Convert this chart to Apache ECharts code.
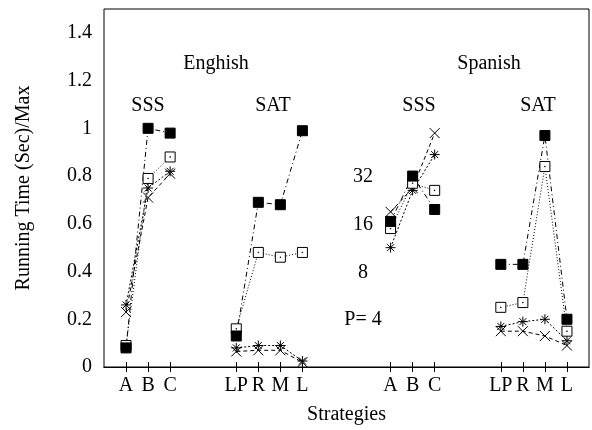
<!DOCTYPE html>
<html>
<head>
<meta charset="utf-8">
<script src="https://cdn.jsdelivr.net/npm/echarts@6/dist/echarts.min.js"></script>
<style>html,body{margin:0;padding:0;background:#fff;}#c{width:592px;height:430px;}</style>
</head>
<body>
<div id="c"></div>
<script>
// x categories ('' = empty slot between groups)
const categories = ['', 'A', 'B', 'C', '', '', 'LP', 'R', 'M', 'L', '', '', '', 'A', 'B', 'C', '', '', 'LP', 'R', 'M', 'L', ''];
const yTicks = [0, 0.2, 0.4, 0.6, 0.8, 1, 1.2, 1.4];

// English SSS (A,B,C)
const engSSS_P32 = [0.08, 1.00, 0.98];
const engSSS_P16 = [0.09, 0.79, 0.88];
const engSSS_P8  = [0.26, 0.75, 0.82];
const engSSS_P4  = [0.23, 0.71, 0.81];
// English SAT (LP,R,M,L)
const engSAT_P32 = [0.13, 0.69, 0.68, 0.99];
const engSAT_P16 = [0.16, 0.48, 0.46, 0.48];
const engSAT_P8  = [0.08, 0.09, 0.09, 0.025];
const engSAT_P4  = [0.065, 0.07, 0.07, 0.02];
// Spanish SSS (A,B,C)
const spaSSS_P32 = [0.61, 0.80, 0.66];
const spaSSS_P16 = [0.58, 0.77, 0.74];
const spaSSS_P8  = [0.50, 0.74, 0.89];
const spaSSS_P4  = [0.65, 0.75, 0.98];
// Spanish SAT (LP,R,M,L)
const spaSAT_P32 = [0.43, 0.43, 0.97, 0.20];
const spaSAT_P16 = [0.25, 0.27, 0.84, 0.15];
const spaSAT_P8  = [0.17, 0.19, 0.20, 0.11];
const spaSAT_P4  = [0.15, 0.15, 0.13, 0.09];

const seriesNames = ['P=32', 'P=16', 'P=8', 'P=4'];
const annotationLabels = ['32', '16', '8', 'P= 4'];

function full(a, b, c, d) {
  return [null, ...a, null, null, ...b, null, null, null, ...c, null, null, ...d, null];
}

const FONT = 'Liberation Serif';
const chart = echarts.init(document.getElementById('c'));
const axisBase = {
  axisLine: {lineStyle: {color: '#000', width: 1}},
  splitLine: {show: false}
};
const xA = {
  type: 'category', data: categories, boundaryGap: false,
  axisTick: {inside: true, length: 5, lineStyle: {color: '#000'}, interval: (i, v) => v !== ''},
  ...axisBase
};
const yA = {
  type: 'value', min: 0, max: 1.5, interval: 0.2,
  axisTick: {inside: true, length: 5, lineStyle: {color: '#000'}},
  ...axisBase
};

const mk = (name, data, symbol, size, itemStyle, dash) => ({
  name, type: 'line', data, symbol, symbolSize: size, showAllSymbol: true,
  connectNulls: false, z: 3,
  lineStyle: {color: '#000', width: 1, type: dash},
  itemStyle: Object.assign({borderColor: '#000', borderWidth: 1}, itemStyle),
  emphasis: {disabled: true}
});

const asterisk = 'path://M5 0L5 10M0 5L10 5M1.5 1.5L8.5 8.5M8.5 1.5L1.5 8.5';
const cross = 'path://M0 0L10 10M10 0L0 10';
const dotSquare = 'path://M0 0H10V10H0Z M4.7 4.7H5.3V5.3H4.7Z';

const txt = (s, x, y) => ({type: 'text', x, y, style: {text: s, font: '20px "' + FONT + '"', fill: '#000', textAlign: 'center', textVerticalAlign: 'middle'}});

chart.setOption({
  animation: false,
  backgroundColor: '#fff',
  grid: {left: 104, top: 9, width: 486, height: 359, show: true, borderColor: '#000', borderWidth: 1, backgroundColor: 'transparent'},
  xAxis: [
    Object.assign({}, xA, {position: 'bottom', name: 'Strategies', nameLocation: 'middle', nameGap: 38,
      nameTextStyle: {fontFamily: FONT, fontSize: 20, color: '#000'},
      axisLabel: {interval: 0, fontFamily: FONT, fontSize: 20, color: '#000', margin: 9}}),
    Object.assign({}, xA, {position: 'top', axisLabel: {show: false}})
  ],
  yAxis: [
    Object.assign({}, yA, {position: 'left', name: 'Running Time (Sec)/Max', nameLocation: 'middle', nameGap: 70,
      nameTextStyle: {fontFamily: FONT, fontSize: 20, color: '#000'},
      axisLabel: {fontFamily: FONT, fontSize: 20, color: '#000', margin: 12,
        formatter: v => (yTicks.some(t => Math.abs(t - v) < 1e-6) ? String(Math.round(v * 10) / 10) : '')}}),
    Object.assign({}, yA, {position: 'right', axisLabel: {show: false}})
  ],
  series: [
    mk(seriesNames[3], full(engSSS_P4, engSAT_P4, spaSSS_P4, spaSAT_P4), cross, 10, {color: 'transparent'}, [4, 3]),
    mk(seriesNames[2], full(engSSS_P8, engSAT_P8, spaSSS_P8, spaSAT_P8), asterisk, 10, {color: 'transparent'}, [2, 2]),
    mk(seriesNames[1], full(engSSS_P16, engSAT_P16, spaSSS_P16, spaSAT_P16), dotSquare, 10, {color: '#fff'}, [1, 2]),
    mk(seriesNames[0], full(engSSS_P32, engSAT_P32, spaSSS_P32, spaSAT_P32), 'rect', 10, {color: '#000'}, [5, 3, 1, 3])
  ],
  graphic: [
    txt('Enghish', 216, 64),
    txt('Spanish', 489, 64),
    txt('SSS', 148, 106),
    txt('SAT', 273, 106),
    txt('SSS', 419, 106),
    txt('SAT', 538, 106),
    txt(annotationLabels[0], 363, 177),
    txt(annotationLabels[1], 363, 225),
    txt(annotationLabels[2], 363, 273),
    txt(annotationLabels[3], 363, 320)
  ]
});
</script>
</body>
</html>
